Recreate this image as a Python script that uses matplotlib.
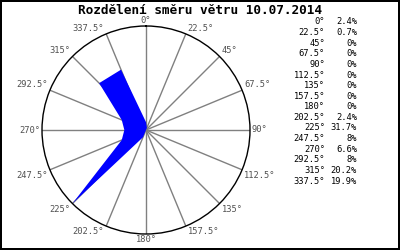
import numpy as np
import matplotlib
matplotlib.use("Agg")
import matplotlib.pyplot as plt

# wind direction share (%)
directions = [0, 22.5, 45, 67.5, 90, 112.5, 135, 157.5,
              180, 202.5, 225, 247.5, 270, 292.5, 315, 337.5]
dir_labels = ["0°", "22.5°", "45°", "67.5°", "90°", "112.5°", "135°", "157.5°",
              "180°", "202.5°", "225°", "247.5°", "270°", "292.5°", "315°", "337.5°"]
share = [2.4, 0.7, 0, 0, 0, 0, 0, 0, 0, 2.4, 31.7, 8, 6.6, 8, 20.2, 19.9]
share_labels = ["2.4%", "0.7%", "0%", "0%", "0%", "0%", "0%", "0%",
                "0%", "2.4%", "31.7%", "8%", "6.6%", "8%", "20.2%", "19.9%"]

plt.rcParams["font.family"] = "DejaVu Sans Mono"

W, H = 400, 250
fig = plt.figure(figsize=(4, 2.5), dpi=100)
fig.patch.set_facecolor("white")
fig.patch.set_edgecolor("black")
fig.patch.set_linewidth(1.5)

cx, cy, R = 146, 130, 104
ax = fig.add_axes([(cx - R) / W, (H - cy - R) / H, 2 * R / W, 2 * R / H],
                  projection="polar")
ax.set_theta_zero_location("N")
ax.set_theta_direction(-1)
rmax = max(share)
ax.set_ylim(0, rmax)
ax.grid(False)
ax.set_xticks([])
ax.set_yticks([])
ax.spines["polar"].set_color("black")
ax.spines["polar"].set_linewidth(1)

theta = np.deg2rad(directions)
for t in theta:
    ax.plot([t, t], [0, rmax], color="#808080", lw=1, zorder=1)

# filled rose polygon
tt = np.append(theta, theta[0])
rr = np.append(share, share[0])
ax.fill(tt, rr, color="#0000ff", zorder=2, lw=0)

# direction labels around the circle
for d, lab in zip(directions, dir_labels):
    s, c = np.sin(np.deg2rad(d)), np.cos(np.deg2rad(d))
    ha = "center" if abs(s) < 1e-6 else ("left" if s > 0 else "right")
    va = "center" if abs(c) < 1e-6 else ("bottom" if c > 0 else "top")
    x = cx + R * s + (2 if s > 1e-6 else -2 if s < -1e-6 else 0)
    y = cy - R * c - (1 if c > 1e-6 else -1 if c < -1e-6 else 0)
    fig.text(x / W, 1 - y / H, lab, ha=ha, va=va, fontsize=6.3, color="#505050")

fig.text(0.5, 1 - 10.5 / H, "Rozdělení směru větru 10.07.2014", ha="center", va="center",
         fontsize=9.2, fontweight="bold", color="black")

# legend table
for i, (dl, sl) in enumerate(zip(dir_labels, share_labels)):
    y = 22 + i * 10.6
    fig.text(325 / W, 1 - y / H, dl, ha="right", va="center", fontsize=6.3,
             color="black")
    fig.text(357 / W, 1 - y / H, sl, ha="right", va="center", fontsize=6.3,
             color="black")

fig.savefig("out.png", dpi=100, edgecolor=fig.get_edgecolor())
